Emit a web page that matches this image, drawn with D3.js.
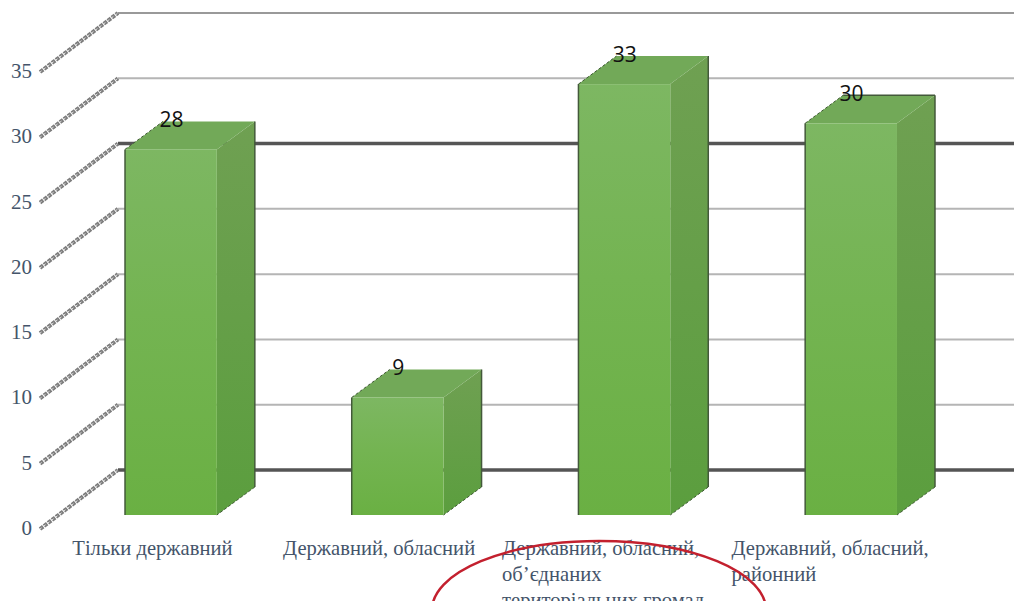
<!DOCTYPE html>
<html><head><meta charset="utf-8">
<script src="https://cdn.jsdelivr.net/npm/d3@7"></script>
<style>html,body{margin:0;padding:0;background:#fff;overflow:hidden}svg{display:block}</style>
</head><body><svg id="c" width="1014" height="601"></svg>
<script>
const categories = [
  ["Тільки державний"],
  ["Державний, обласний"],
  ["Державний, обласний,", "об’єднаних", "територіальних громад"],
  ["Державний, обласний,", "районний"]
];
const values = [28, 9, 33, 30];
const tickValues = [0, 5, 10, 15, 20, 25, 30, 35];
const heavyTicks = [0, 25];

const svg = d3.select("#c");
const y = d3.scaleLinear().domain([0, 35]).range([515, 58]);
const x = d3.scaleBand().domain(d3.range(values.length)).range([57, 965]).paddingInner(0.595).paddingOuter(0.3);
const bw = x.bandwidth();
const depth = {dx: 38, dy: -28};
const wall = {x0: 40, x1: 118, front: 14, back: -45};

const defs = svg.append("defs");
function grad(id, stops) {
  const g = defs.append("linearGradient").attr("id", id).attr("x1", 0).attr("y1", 0).attr("x2", 0).attr("y2", 1);
  stops.forEach(([o, c]) => g.append("stop").attr("offset", o).attr("stop-color", c));
}
grad("front", [["0%", "#7db762"], ["45%", "#74b452"], ["100%", "#6ab043"]]);
grad("side", [["0%", "#6fa052"], ["100%", "#5b9e3e"]]);

// back wall gridlines
svg.append("g").selectAll("line").data(tickValues).join("line")
  .attr("x1", wall.x1).attr("x2", 1014)
  .attr("y1", d => y(d) + wall.back).attr("y2", d => y(d) + wall.back)
  .attr("stroke", d => heavyTicks.includes(d) ? "#555" : d === 35 ? "#777" : "#b5b5b5")
  .attr("stroke-width", d => heavyTicks.includes(d) ? 3.5 : d === 35 ? 1.5 : 2);

// side wall lines
const diag = svg.append("g");
[["#7d7d7d", 4, "4 1"], ["#dedede", 1, "2 3"]].forEach(([c, w, dash]) => {
  diag.append("g").selectAll("line").data(tickValues).join("line")
    .attr("x1", wall.x0).attr("x2", wall.x1)
    .attr("y1", d => y(d) + wall.front).attr("y2", d => y(d) + wall.back)
    .attr("stroke", c).attr("stroke-width", w).attr("stroke-dasharray", dash);
});

// bars
const bars = svg.append("g").selectAll("g").data(values).join("g");
bars.append("path").attr("fill", "url(#side)")
  .attr("d", (d, i) => { const r = x(i) + bw, t = y(d), b = y(0);
    return `M${r},${t}L${r + depth.dx},${t + depth.dy}L${r + depth.dx},${b + depth.dy}L${r},${b}Z`; });
bars.append("path").attr("fill", "#72a958")
  .attr("d", (d, i) => { const l = x(i), r = l + bw, t = y(d);
    return `M${l},${t}L${l + depth.dx},${t + depth.dy}L${r + depth.dx},${t + depth.dy}L${r},${t}Z`; });
bars.append("rect").attr("fill", "url(#front)")
  .attr("x", (d, i) => x(i)).attr("y", d => y(d)).attr("width", bw).attr("height", d => y(0) - y(d));
// bar edges: left front and right back are dark, the diagonals are dashed
bars.append("path").attr("fill", "none").attr("stroke", "#43593a").attr("stroke-width", 1.5)
  .attr("d", (d, i) => { const l = x(i), r = l + bw, t = y(d), b = y(0);
    return `M${l},${b}L${l},${t}M${r + depth.dx},${t + depth.dy}L${r + depth.dx},${b + depth.dy}`; });
bars.append("path").attr("fill", "none").attr("stroke", "#3f5a34").attr("stroke-width", 1).attr("stroke-dasharray", "3 2")
  .attr("d", (d, i) => { const l = x(i), r = l + bw, t = y(d), b = y(0);
    return `M${l},${t}L${l + depth.dx},${t + depth.dy}M${r + depth.dx},${b + depth.dy}L${r},${b}`; });
// the last bar carries a dark back edge on top
bars.filter((d, i) => i === values.length - 1).append("path").attr("fill", "none").attr("stroke", "#43593a").attr("stroke-width", 1.5)
  .attr("d", d => { const l = x(3), r = l + bw, t = y(d);
    return `M${l + depth.dx},${t + depth.dy}L${r + depth.dx},${t + depth.dy}`; });

// value labels
svg.append("g").selectAll("text").data(values).join("text")
  .attr("x", (d, i) => x(i) + bw / 2 + 0.5)
  .attr("y", d => y(d) - 22)
  .attr("text-anchor", "middle")
  .attr("font-family", "'Open Sans', sans-serif").attr("font-size", 21).attr("fill", "#111")
  .text(d => d);

// y tick labels
svg.append("g").selectAll("text").data(tickValues).join("text")
  .attr("x", 32).attr("y", d => y(d) + 20)
  .attr("text-anchor", "end")
  .attr("font-family", "'Liberation Serif', serif").attr("font-size", 21).attr("fill", "#44546a")
  .text(d => d);

// category labels: left aligned blocks centred under the bars
const cat = svg.append("g").selectAll("text").data(categories).join("text")
  .attr("font-family", "'Liberation Serif', serif").attr("font-size", 20.6).attr("fill", "#44546a");
cat.each(function (lines, i) {
  const t = d3.select(this);
  lines.forEach((s, j) => t.append("tspan").attr("dy", j ? 26 : 0).attr("x", 0).text(s));
  const w = this.getBBox().width;
  const left = x(i) + bw / 2 - (lines.length > 1 ? 21 : 18.5) - w / 2;
  t.attr("y", 555).selectAll("tspan").attr("x", left);
});

// hand drawn ellipse
svg.append("ellipse").attr("cx", 599).attr("cy", 610).attr("rx", 167).attr("ry", 69)
  .attr("fill", "none").attr("stroke", "#c3202e").attr("stroke-width", 2.5);
</script></body></html>
